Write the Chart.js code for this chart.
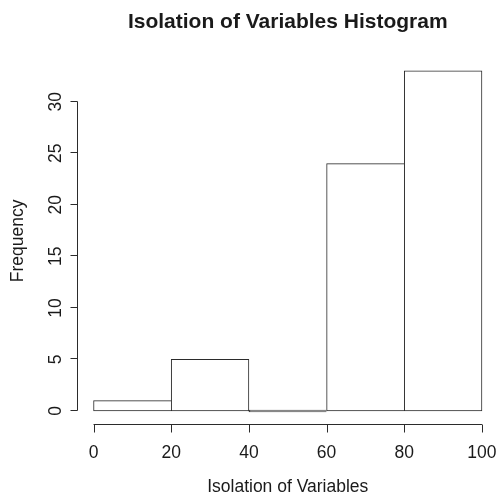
<!DOCTYPE html>
<html>
<head>
<meta charset="utf-8">
<script src="https://cdn.jsdelivr.net/npm/chart.js@4"></script>
<style>
  html, body { margin: 0; padding: 0; background: #fff; }
  #wrap { width: 498px; height: 495px; }
</style>
</head>
<body>
<div id="wrap"><canvas id="histChart" width="498" height="495"></canvas></div>
<script>
// Histogram data
const binEdges = [0, 20, 40, 60, 80, 100];
const counts = [1, 5, 0, 24, 33];
const xTicks = [0, 20, 40, 60, 80, 100];
const yTicks = [0, 5, 10, 15, 20, 25, 30];
const chartTitle = 'Isolation of Variables Histogram';
const xTitle = 'Isolation of Variables';
const yTitle = 'Frequency';

const FONT = '"Liberation Sans", Arial, Helvetica, sans-serif';
const LINE = '#2b2b2b';
const TEXT = '#1a1a1a';

// bars placed at bin midpoints on a linear x scale
const points = counts.map((c, i) => ({ x: (binEdges[i] + binEdges[i + 1]) / 2, y: c }));

// R-like axes: drawn by hand from the chart's scales
const rAxes = {
    id: 'rAxes',
    afterDraw(chart) {
        const ctx = chart.ctx;
        const area = chart.chartArea;
        const xs = chart.scales.x;
        const ys = chart.scales.y;
        ctx.save();
        ctx.strokeStyle = LINE;
        ctx.lineWidth = 1;
        ctx.fillStyle = TEXT;

        // y axis
        const ax = Math.round(area.left) - 0.5;
        ctx.beginPath();
        ctx.moveTo(ax, Math.round(ys.getPixelForValue(yTicks[0])) - 0.5);
        ctx.lineTo(ax, Math.round(ys.getPixelForValue(yTicks[yTicks.length - 1])) - 0.5);
        yTicks.forEach(t => {
            const py = Math.round(ys.getPixelForValue(t)) - 0.5;
            ctx.moveTo(ax, py);
            ctx.lineTo(ax - 7, py);
        });
        ctx.stroke();
        ctx.font = '17.5px ' + FONT;
        ctx.textAlign = 'center';
        ctx.textBaseline = 'middle';
        yTicks.forEach(t => {
            ctx.save();
            ctx.translate(ax - 22, ys.getPixelForValue(t));
            ctx.rotate(-Math.PI / 2);
            ctx.fillText(String(t), 0, 1);
            ctx.restore();
        });

        // x axis
        const ay = Math.round(area.bottom) - 0.5;
        ctx.beginPath();
        ctx.moveTo(xs.getPixelForValue(xTicks[0]), ay);
        ctx.lineTo(xs.getPixelForValue(xTicks[xTicks.length - 1]), ay);
        xTicks.forEach(t => {
            const px = Math.round(xs.getPixelForValue(t)) + 0.5;
            ctx.moveTo(px, ay);
            ctx.lineTo(px, ay + 8);
        });
        ctx.stroke();
        xTicks.forEach(t => {
            ctx.fillText(String(t), xs.getPixelForValue(t), 453);
        });

        // axis titles
        const midX = (area.left + area.right) / 2;
        const midY = (area.top + area.bottom) / 2;
        ctx.fillText(xTitle, midX, 487);
        ctx.save();
        ctx.translate(18, midY);
        ctx.rotate(-Math.PI / 2);
        ctx.fillText(yTitle, 0, 0);
        ctx.restore();

        // main title
        ctx.font = 'bold 21px ' + FONT;
        ctx.fillText(chartTitle, midX, 22);
        ctx.restore();
    }
};

// right border only where the next bar is lower (shared edges drawn once)
function barBorder(c) {
    const i = c.dataIndex;
    const next = i + 1 < counts.length ? counts[i + 1] : -1;
    return { left: 1, top: 1, bottom: 1, right: next < counts[i] ? 1 : 0 };
}

new Chart(document.getElementById('histChart').getContext('2d'), {
    type: 'bar',
    data: {
        datasets: [{
            data: points,
            backgroundColor: '#ffffff',
            borderColor: LINE,
            borderWidth: barBorder,
            borderSkipped: false,
            minBarLength: 2,
            barPercentage: 1,
            categoryPercentage: 1
        }]
    },
    options: {
        responsive: false,
        animation: false,
        layout: { padding: { left: 78, right: 0.5, top: 57.16, bottom: 70.39 } },
        scales: {
            x: { type: 'linear', min: -4, max: 104, offset: false, display: false },
            y: { min: -1.32, max: 34.32, display: false }
        },
        plugins: {
            legend: { display: false },
            tooltip: { enabled: false },
            title: { display: false }
        }
    },
    plugins: [rAxes]
});
</script>
</body>
</html>
